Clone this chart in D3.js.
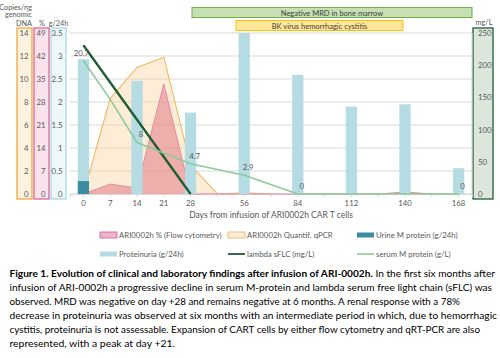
<!DOCTYPE html>
<html><head><meta charset="utf-8">
<script src="https://cdn.jsdelivr.net/npm/d3@7"></script>
<style>
html,body{margin:0;padding:0;background:#fff;}
svg{display:block;font-family:Lato,"Open Sans",sans-serif;}
</style></head>
<body><svg id="c" width="500" height="358"></svg>
<script>
// ---- data ----
const days = [0,7,14,21,28,42,56,70,84,98,112,126,140,154,168];
const dayLabels = ["0","7","14","21","28","","56","","84","","112","","140","","168"];
const proteinuria = [2.93,null,2.46,null,1.77,null,3.5,null,2.59,null,1.90,null,1.95,null,0.56];
const urineM = [0.28,null,null,null,null,null,null,null,null,null,null,null,null,null,null];
const flowPct = [0,3.0,1.8,33.5,0,0,0,0,0,0,0,0,0.6,0,0];
const qpcr = [0,8.3,11.0,11.9,2.5,0,0.1,0,null,null,null,null,null,null,null];
const sflc = [231,null,null,null,0,null,null,null,null,null,null,null,null,null,null];
const serumM = [20.7,14.7,8,null,4.7,null,2.9,null,0,null,null,null,null,null,0];
const serumLabels = ["20.7","","8","","4.7","","2.9","","0","","","","","","0"];
const dnaTicks = [0,2,4,6,8,10,12,14];
const pctTicks = [0,7,14,21,28,35,42,49];
const gTicks = [0,0.5,1,1.5,2,2.5,3,3.5];
const mgTicks = [0,50,100,150,200,250];
const legendItems = ["ARI0002h % (Flow cytometry)","ARI0002h Quantif. qPCR","Urine M protein (g/24h)","Proteinuria (g/24h)","lambda sFLC (mg/L)","serum M protein (g/L)"];
const captionBold = "Figure 1. Evolution of clinical and laboratory findings after infusion of ARI-0002h.";
const captionLines = [
 " In the first six months after",
 "infusion of ARI-0002h a progressive decline in serum M-protein and lambda serum free light chain (sFLC) was",
 "observed. MRD was negative on day +28 and remains negative at 6 months. A renal response with a 78%",
 "decrease in proteinuria was observed at six months with an intermediate period in which, due to hemorrhagic",
 "cystitis, proteinuria is not assessable. Expansion of CART cells by either flow cytometry and qRT-PCR are also",
 "represented, with a peak at day +21."
];

// ---- layout ----
const svg = d3.select("#c");
const L = 70, R = 472, T = 33, B = 194;
const grey = "#595959";
const x = d3.scaleBand().domain(days.map(String)).range([L,R]);
const xc = i => x(String(days[i])) + x.bandwidth()/2;
const yG = d3.scaleLinear().domain([0,3.5]).range([B,T]);
const yPct = d3.scaleLinear().domain([0,49]).range([B,T]);
const yDNA = d3.scaleLinear().domain([0,14]).range([B,T]);
const yMg = d3.scaleLinear().domain([0,250]).range([B,T]);
const ySer = d3.scaleLinear().domain([0,25]).range([B,T]);

// left axis boxes
const boxes = [
 {x0:17,x1:32,fill:"#fdf1e0",stroke:"#eea83a",scale:yDNA,ticks:dnaTicks},
 {x0:34,x1:49,fill:"#fbe3ee",stroke:"#d9669c",scale:yPct,ticks:pctTicks},
 {x0:51,x1:66,fill:"#eef8fa",stroke:"#a9d9e2",scale:yG,ticks:gTicks}
];
boxes.forEach(b=>{
  svg.append("rect").attr("x",b.x0).attr("y",28).attr("width",b.x1-b.x0).attr("height",171)
    .attr("fill",b.fill).attr("stroke",b.stroke).attr("stroke-width",1.3);
  const g = svg.append("g").attr("transform",`translate(${b.x1-3.5},0)`)
    .call(d3.axisLeft(b.scale).tickValues(b.ticks).tickSize(0).tickPadding(0).tickFormat(d=>d));
  g.select(".domain").remove();
  g.selectAll("text").attr("fill",grey).style("font-size","7.8px").style("font-family","Lato");
});
// axis titles
const tt = svg.append("g").attr("fill",grey).style("font-size","7.3px");
tt.append("text").attr("x",32).attr("y",9.5).attr("text-anchor","end").text("Copies/ng");
tt.append("text").attr("x",32).attr("y",17).attr("text-anchor","end").text("genomic");
tt.append("text").attr("x",32).attr("y",25.5).attr("text-anchor","end").text("DNA");
tt.append("text").attr("x",42).attr("y",25.5).attr("text-anchor","middle").text("%");
tt.append("text").attr("x",58.5).attr("y",25.5).attr("text-anchor","middle").text("g/24h");
tt.append("text").attr("x",484).attr("y",25).attr("text-anchor","middle").text("mg/L");

// right axis box
svg.append("rect").attr("x",473).attr("y",28).attr("width",20).attr("height",171)
  .attr("fill","#dde6dd").attr("stroke","#1f5c34").attr("stroke-width",1.3);
const ra = svg.append("g").attr("transform",`translate(477,0)`)
  .call(d3.axisRight(yMg).tickValues(mgTicks).tickSize(0).tickPadding(1));
ra.select(".domain").remove();
ra.selectAll("text").attr("fill",grey).style("font-size","7.8px").style("font-family","Lato");

// gridlines
svg.append("g").selectAll("line").data(gTicks).join("line")
  .attr("x1",L).attr("x2",R).attr("y1",d=>yG(d)).attr("y2",d=>yG(d))
  .attr("stroke","#d9d9d9").attr("stroke-width",1);
svg.append("line").attr("x1",R).attr("x2",R).attr("y1",T).attr("y2",B).attr("stroke","#d9d9d9");

// x axis
const xa = svg.append("g").attr("transform",`translate(0,${B})`)
  .call(d3.axisBottom(x).tickSize(3).tickPadding(3).tickFormat((d,i)=>dayLabels[i]));
xa.select(".domain").attr("stroke","#d9d9d9");
xa.selectAll("line").attr("stroke","#d9d9d9");
xa.selectAll("text").attr("fill",grey).style("font-size","7.8px").style("font-family","Lato");
svg.append("text").attr("x",271).attr("y",218).attr("text-anchor","middle")
  .attr("fill",grey).style("font-size","8.5px").text("Days from infusion of ARI0002h CAR T cells");

// top annotation bars
svg.append("rect").attr("x",192).attr("y",7.5).attr("width",280).attr("height",10)
  .attr("fill","#c6e0b4").attr("stroke","#72ad4a").attr("stroke-width",1);
svg.append("text").attr("x",332).attr("y",15.5).attr("text-anchor","middle").attr("fill","#404040")
  .style("font-size","7.5px").text("Negative MRD in bone marrow");
svg.append("rect").attr("x",236).attr("y",20.5).attr("width",167).attr("height",10)
  .attr("fill","#ffe699").attr("stroke","#ffc000").attr("stroke-width",1);
svg.append("text").attr("x",319.5).attr("y",28.5).attr("text-anchor","middle").attr("fill","#404040")
  .style("font-size","7.5px").text("BK virus hemorrhagic cystitis");

// areas
const idx = days.map((d,i)=>i);
const areaOf = (arr,ys)=>d3.area().defined(i=>arr[i]!=null).x(i=>xc(i)).y0(B).y1(i=>ys(arr[i]));
const lineOf = (arr,ys)=>d3.line().defined(i=>arr[i]!=null).x(i=>xc(i)).y(i=>ys(arr[i]));
svg.append("path").attr("d",areaOf(qpcr,yDNA)(idx)).attr("fill","rgba(250,212,160,0.42)");
svg.append("path").attr("d",lineOf(qpcr,yDNA)(idx)).attr("fill","none").attr("stroke","#f2b865").attr("stroke-width",1.1);
svg.append("path").attr("d",areaOf(flowPct,yPct)(idx)).attr("fill","rgba(222,112,130,0.5)");
svg.append("path").attr("d",lineOf(flowPct,yPct)(idx)).attr("fill","none").attr("stroke","#e58aa6").attr("stroke-width",1);

// bars
const bw = x.bandwidth()*0.42;
svg.append("g").selectAll("rect").data(idx.filter(i=>proteinuria[i]!=null)).join("rect")
  .attr("x",i=>xc(i)-bw/2).attr("width",bw).attr("y",i=>yG(proteinuria[i])).attr("height",i=>B-yG(proteinuria[i]))
  .attr("fill","#b5dbe3");
svg.append("g").selectAll("rect").data(idx.filter(i=>urineM[i]!=null)).join("rect")
  .attr("x",i=>xc(i)-bw/2).attr("width",bw).attr("y",i=>yG(urineM[i])).attr("height",i=>B-yG(urineM[i]))
  .attr("fill","#3a8c9e");

// lines
const sIdx = idx.filter(i=>sflc[i]!=null);
svg.append("path").attr("d",d3.line().x(i=>xc(i)).y(i=>yMg(sflc[i]))(sIdx))
  .attr("fill","none").attr("stroke","#1f5c34").attr("stroke-width",2.3);
const mIdx = idx.filter(i=>serumM[i]!=null);
svg.append("path").attr("d",d3.line().x(i=>xc(i)).y(i=>ySer(serumM[i]))(mIdx))
  .attr("fill","none").attr("stroke","#8cca9c").attr("stroke-width",1.6);
svg.append("g").selectAll("text").data(mIdx.filter(i=>serumLabels[i]!=="")).join("text")
  .attr("x",i=>xc(i)+(i===0?-2:4)).attr("y",i=>ySer(serumM[i])-5).attr("text-anchor","middle")
  .attr("fill",grey).style("font-size","7.8px").text(i=>serumLabels[i]);

// legend
const lg = svg.append("g");
const lx = [100,228,357], ly = [235,254];
legendItems.forEach((t,k)=>{
  const cx = lx[k%3], cy = ly[Math.floor(k/3)];
  if(k===0) lg.append("rect").attr("x",cx).attr("y",cy-3).attr("width",17).attr("height",6).attr("fill","#ebb3cc").attr("stroke","#d9669c").attr("stroke-width",0.9);
  if(k===1) lg.append("rect").attr("x",cx).attr("y",cy-3).attr("width",17).attr("height",6).attr("fill","#fdefdc").attr("stroke","#f2b865").attr("stroke-width",0.9);
  if(k===2) lg.append("rect").attr("x",cx).attr("y",cy-2.5).attr("width",17).attr("height",5).attr("fill","#3a8c9e");
  if(k===3) lg.append("rect").attr("x",cx).attr("y",cy-2.5).attr("width",17).attr("height",5).attr("fill","#b5dbe3");
  if(k===4) lg.append("line").attr("x1",cx).attr("x2",cx+17).attr("y1",cy).attr("y2",cy).attr("stroke","#1f5c34").attr("stroke-width",1.8);
  if(k===5) lg.append("line").attr("x1",cx).attr("x2",cx+17).attr("y1",cy).attr("y2",cy).attr("stroke","#8cca9c").attr("stroke-width",1.6);
  lg.append("text").attr("x",cx+19).attr("y",cy+3).attr("fill",grey).style("font-size","7.8px").text(t);
});

// caption
const cap = svg.append("g").attr("fill","#000").style("font-size","10px");
const ends = [495,492,460,497,480,175];
captionLines.forEach((t,k)=>{
  const tx = cap.append("text").attr("x",9.5).attr("y",277+14*k)
    .attr("textLength",ends[k]-9.5).attr("lengthAdjust","spacingAndGlyphs");
  if(k===0){ tx.append("tspan").attr("font-weight","bold").text(captionBold); }
  tx.append("tspan").text(t);
});
</script></body></html>
